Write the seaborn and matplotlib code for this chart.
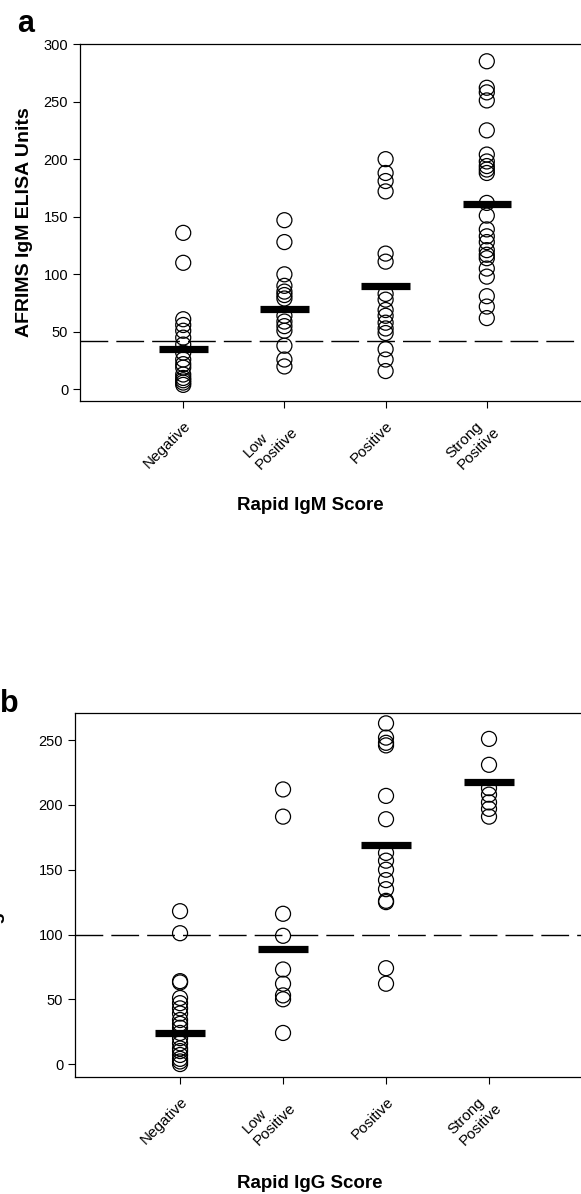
import numpy as np
import pandas as pd
import matplotlib
matplotlib.use('Agg')
import matplotlib.pyplot as plt
import matplotlib.transforms as mtrans
import seaborn as sns

# categories
CATS = ['Negative', 'Low\nPositive', 'Positive', 'Strong\nPositive']

# panel a - IgM (AFRIMS IgM ELISA units per rapid score)
igm_neg = [136, 110, 61, 56, 51, 45, 39, 32, 26, 22, 19, 13, 10, 8, 6, 4]
igm_low = [147, 128, 100, 90, 85, 82, 79, 64, 59, 55, 51, 38, 26, 20]
igm_pos = [200, 188, 181, 172, 118, 111, 83, 78, 69, 64, 58, 53, 49, 35, 26, 16]
igm_strong = [285, 262, 258, 251, 225, 204, 198, 194, 191, 188, 162, 151, 139,
              133, 128, 121, 117, 114, 105, 98, 81, 72, 62]
igm_bar = [35, 70, 90, 161]
igm_cutoff = 42

# panel b - IgG
igg_neg = [118, 101, 64, 63, 51, 47, 43, 39, 34, 31, 28, 24, 20, 16, 12, 10, 7, 4, 2, 0]
igg_low = [212, 191, 116, 99, 73, 62, 53, 50, 24]
igg_pos = [263, 252, 248, 246, 207, 189, 163, 157, 150, 142, 135, 126, 125, 74, 62]
igg_strong = [251, 231, 213, 208, 202, 197, 191]
igg_bar = [24, 89, 169, 218]
igg_cutoff = 100

sns.set_style('ticks')
plt.rcParams['font.family'] = ['Liberation Sans', 'DejaVu Sans']
plt.rcParams['text.color'] = 'black'
plt.rcParams['axes.labelcolor'] = 'black'
W, H = 581, 1194


def to_df(groups):
    rows = []
    for cat, vals in zip(CATS, groups):
        rows += [(cat, v) for v in vals]
    return pd.DataFrame(rows, columns=['score', 'units'])


def panel(ax, groups, bars, cutoff, ylim, yticks, ylabel, xlabel, ylab_x, xlab_xy):
    df = to_df(groups)
    sns.stripplot(data=df, x='score', y='units', order=CATS, jitter=False,
                  color='black', size=10.8, linewidth=0.9, edgecolor='black', ax=ax)
    for c in ax.collections:
        c.set_facecolor('none')
        c.set_edgecolor('black')
    pos = np.arange(len(CATS))
    ax.hlines(bars, pos - 0.24, pos + 0.24, color='black', linewidth=5.2, zorder=5)
    ax.axhline(cutoff, color='black', linewidth=1.0, dashes=(20, 5.8), zorder=1)
    ax.set_xlim(-1.02, 4.0)
    ax.set_ylim(*ylim)
    ax.set_yticks(yticks)
    ax.tick_params(axis='both', direction='out', length=5, width=0.8,
                   labelsize=10.5, colors='black')
    ax.set_xticks(pos)
    ax.set_xticklabels(CATS, rotation=45, ha='right', va='center',
                       rotation_mode='anchor', multialignment='left', fontsize=11)
    for lab in ax.get_xticklabels():
        lab.set_transform(lab.get_transform() + mtrans.ScaledTranslation(
            5 / 100, -11 / 100, ax.figure.dpi_scale_trans))
    for sp in ax.spines.values():
        sp.set_linewidth(0.9)
        sp.set_color('black')
    ax.set_ylabel(ylabel, fontsize=14, fontweight='bold')
    ax.yaxis.set_label_coords(ylab_x, 0.5)
    ax.set_xlabel(xlabel, fontsize=13.5, fontweight='bold')
    ax.xaxis.set_label_coords(*xlab_xy)


fig = plt.figure(figsize=(W / 100, H / 100), dpi=100)

# panel a
la, ra, ta, ba = 80, 588, 44, 401
ax_a = fig.add_axes([la / W, 1 - ba / H, (ra - la) / W, (ba - ta) / H])
panel(ax_a, [igm_neg, igm_low, igm_pos, igm_strong], igm_bar, igm_cutoff,
      (-10, 300), range(0, 301, 50), 'AFRIMS IgM ELISA Units', 'Rapid IgM Score',
      (33 - la) / (ra - la), ((310 - la) / (ra - la), -(497 - ba) / (ba - ta)))

# panel b (its y label runs off the left edge, as in the source figure)
lb, rb, tb, bb = 75, 592, 713, 1077
ax_b = fig.add_axes([lb / W, 1 - bb / H, (rb - lb) / W, (bb - tb) / H])
panel(ax_b, [igg_neg, igg_low, igg_pos, igg_strong], igg_bar, igg_cutoff,
      (-10, 271), range(0, 251, 50), 'AFRIMS IgG ELISA Units', 'Rapid IgG Score',
      (5 - lb) / (rb - lb), ((310 - lb) / (rb - lb), -(1175 - bb) / (bb - tb)))

fig.text(17 / W, 1 - 32 / H, 'a', fontsize=22, fontweight='bold', va='baseline')
fig.text(0 / W, 1 - 712 / H, 'b', fontsize=22, fontweight='bold', va='baseline')

fig.savefig('out.png', dpi=100, facecolor='white')
plt.close(fig)
